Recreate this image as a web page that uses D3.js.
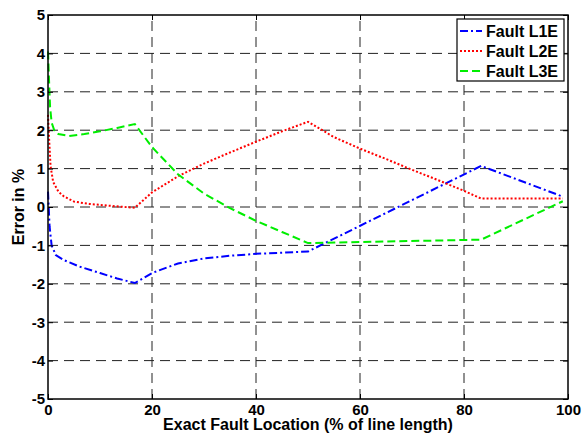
<!DOCTYPE html>
<html>
<head>
<meta charset="utf-8">
<script src="https://cdnjs.cloudflare.com/ajax/libs/d3/7.8.5/d3.min.js"></script>
<style>
  body { margin: 0; background: #fff; }
  svg { display: block; font-family: "Liberation Sans", Arial, sans-serif; font-weight: bold; }
</style>
</head>
<body>
<script>
    let xTicks = [0, 20, 40, 60, 80, 100];
    let yTicks = [-5, -4, -3, -2, -1, 0, 1, 2, 3, 4, 5];

    // Fault L1E
    let l1eX = [0, 0.3, 0.7, 1.5, 3, 6, 10, 13.3, 16.7, 20, 25, 30, 35, 40, 45, 50, 83.3, 99];
    let l1eY = [0.4, -0.5, -1.0, -1.25, -1.38, -1.55, -1.72, -1.86, -1.98, -1.72, -1.47, -1.34, -1.27, -1.22, -1.19, -1.16, 1.07, 0.27];
    // Fault L2E
    let l2eX = [0, 0.2, 0.5, 1, 2, 3, 5, 8, 12, 16.7, 20, 25, 30, 35, 40, 45, 50, 55, 60, 65, 70, 75, 80, 83.3, 99];
    let l2eY = [2.4, 1.8, 1.05, 0.65, 0.4, 0.28, 0.14, 0.08, 0.03, -0.02, 0.38, 0.8, 1.13, 1.42, 1.7, 1.97, 2.22, 1.82, 1.52, 1.25, 0.97, 0.7, 0.42, 0.22, 0.22];
    // Fault L3E
    let l3eX = [0, 0.2, 0.4, 0.7, 1.2, 2, 4, 7, 10, 13.3, 16.7, 20, 25, 30, 35, 40, 45, 50, 83.3, 99];
    let l3eY = [4.05, 3.3, 2.6, 2.2, 2.0, 1.9, 1.85, 1.9, 1.97, 2.06, 2.16, 1.56, 0.85, 0.35, -0.03, -0.36, -0.65, -0.94, -0.85, 0.15];

    let series = [
      {name: "Fault L1E", xs: l1eX, ys: l1eY, color: "#0000ff", dash: "8,3,2,3"},
      {name: "Fault L2E", xs: l2eX, ys: l2eY, color: "#ff0000", dash: "2,2"},
      {name: "Fault L3E", xs: l3eX, ys: l3eY, color: "#00ee00", dash: "8,4"}
    ];

    let width = 583, height = 441;
    let plot = {"left": 48, "right": 568, "top": 15, "bottom": 399};

    const svg = d3.select("body")
      .append("svg")
      .attr("width", width)
      .attr("height", height);

    let xscale = d3.scaleLinear().domain([0, 100]).range([plot.left, plot.right]);
    let yscale = d3.scaleLinear().domain([-5, 5]).range([plot.bottom, plot.top]);

    // grid
    svg.append("g")
      .selectAll("line")
      .data(yTicks.slice(1, -1))
      .enter()
      .append("line")
      .attr("x1", plot.left).attr("x2", plot.right)
      .attr("y1", (d) => yscale(d)).attr("y2", (d) => yscale(d))
      .attr("stroke", "#222")
      .attr("stroke-dasharray", "10,6");

    svg.append("g")
      .selectAll("line")
      .data(xTicks.slice(1, -1))
      .enter()
      .append("line")
      .attr("y1", plot.bottom).attr("y2", plot.top)
      .attr("x1", (d) => xscale(d)).attr("x2", (d) => xscale(d))
      .attr("stroke", "#222")
      .attr("stroke-dasharray", "10,6");

    // series
    let line = d3.line()
      .x((d) => xscale(d[0]))
      .y((d) => yscale(d[1]));

    series.forEach((s) => {
      svg.append("path")
        .datum(s.xs.map((x, i) => [x, s.ys[i]]))
        .attr("d", line)
        .attr("fill", "none")
        .attr("stroke", s.color)
        .attr("stroke-width", 2)
        .attr("stroke-dasharray", s.dash);
    });

    // axes (ticks inside, on all four sides)
    let tickLen = 5;
    let plain = (d) => String(d);
    svg.append("g")
      .attr("transform", "translate(0," + plot.bottom + ")")
      .call(d3.axisBottom(xscale).tickValues(xTicks).tickSize(-tickLen).tickPadding(5).tickFormat(plain));
    svg.append("g")
      .attr("transform", "translate(0," + plot.top + ")")
      .call(d3.axisTop(xscale).tickValues(xTicks).tickSize(-tickLen).tickFormat(""));
    svg.append("g")
      .attr("transform", "translate(" + plot.left + ",0)")
      .call(d3.axisLeft(yscale).tickValues(yTicks).tickSize(-tickLen).tickPadding(3).tickFormat(plain));
    svg.append("g")
      .attr("transform", "translate(" + plot.right + ",0)")
      .call(d3.axisRight(yscale).tickValues(yTicks).tickSize(-tickLen).tickFormat(""));

    svg.selectAll(".domain").remove();
    svg.selectAll(".tick line").attr("stroke", "#000");
    svg.selectAll(".tick text")
      .attr("fill", "#000")
      .style("font-size", "15px")
      .style("font-family", "Liberation Sans, Arial, sans-serif")
      .style("font-weight", "bold");

    svg.append("rect")
      .attr("x", plot.left).attr("y", plot.top)
      .attr("width", plot.right - plot.left)
      .attr("height", plot.bottom - plot.top)
      .attr("fill", "none")
      .attr("stroke", "#000")
      .attr("stroke-width", 1.5);

    // axis labels
    svg.append("text")
      .text("Exact Fault Location (% of line length)")
      .attr("x", (plot.left + plot.right) / 2)
      .attr("y", 430)
      .attr("text-anchor", "middle")
      .style("font-size", "16px");

    svg.append("text")
      .text("Error in %")
      .attr("text-anchor", "middle")
      .attr("transform", "translate(24," + (plot.top + plot.bottom) / 2 + ") rotate(-90)")
      .style("font-size", "16px");

    // legend
    let legend = svg.append("g").attr("id", "legend");
    legend.append("rect")
      .attr("x", 457).attr("y", 19)
      .attr("width", 107).attr("height", 62)
      .attr("fill", "#fff")
      .attr("stroke", "#000")
      .attr("stroke-width", 1.2);

    let rows = legend.selectAll("g.row")
      .data(series)
      .enter()
      .append("g")
      .attr("class", "row")
      .attr("transform", (d, i) => "translate(0," + (31 + i * 20) + ")");

    rows.append("line")
      .attr("x1", 460).attr("x2", 482)
      .attr("y1", 0).attr("y2", 0)
      .attr("stroke", (d) => d.color)
      .attr("stroke-width", 2)
      .attr("stroke-dasharray", (d) => d.dash);

    rows.append("text")
      .text((d) => d.name)
      .attr("x", 486)
      .attr("y", 6)
      .style("font-size", "16px");
</script>
</body>
</html>
